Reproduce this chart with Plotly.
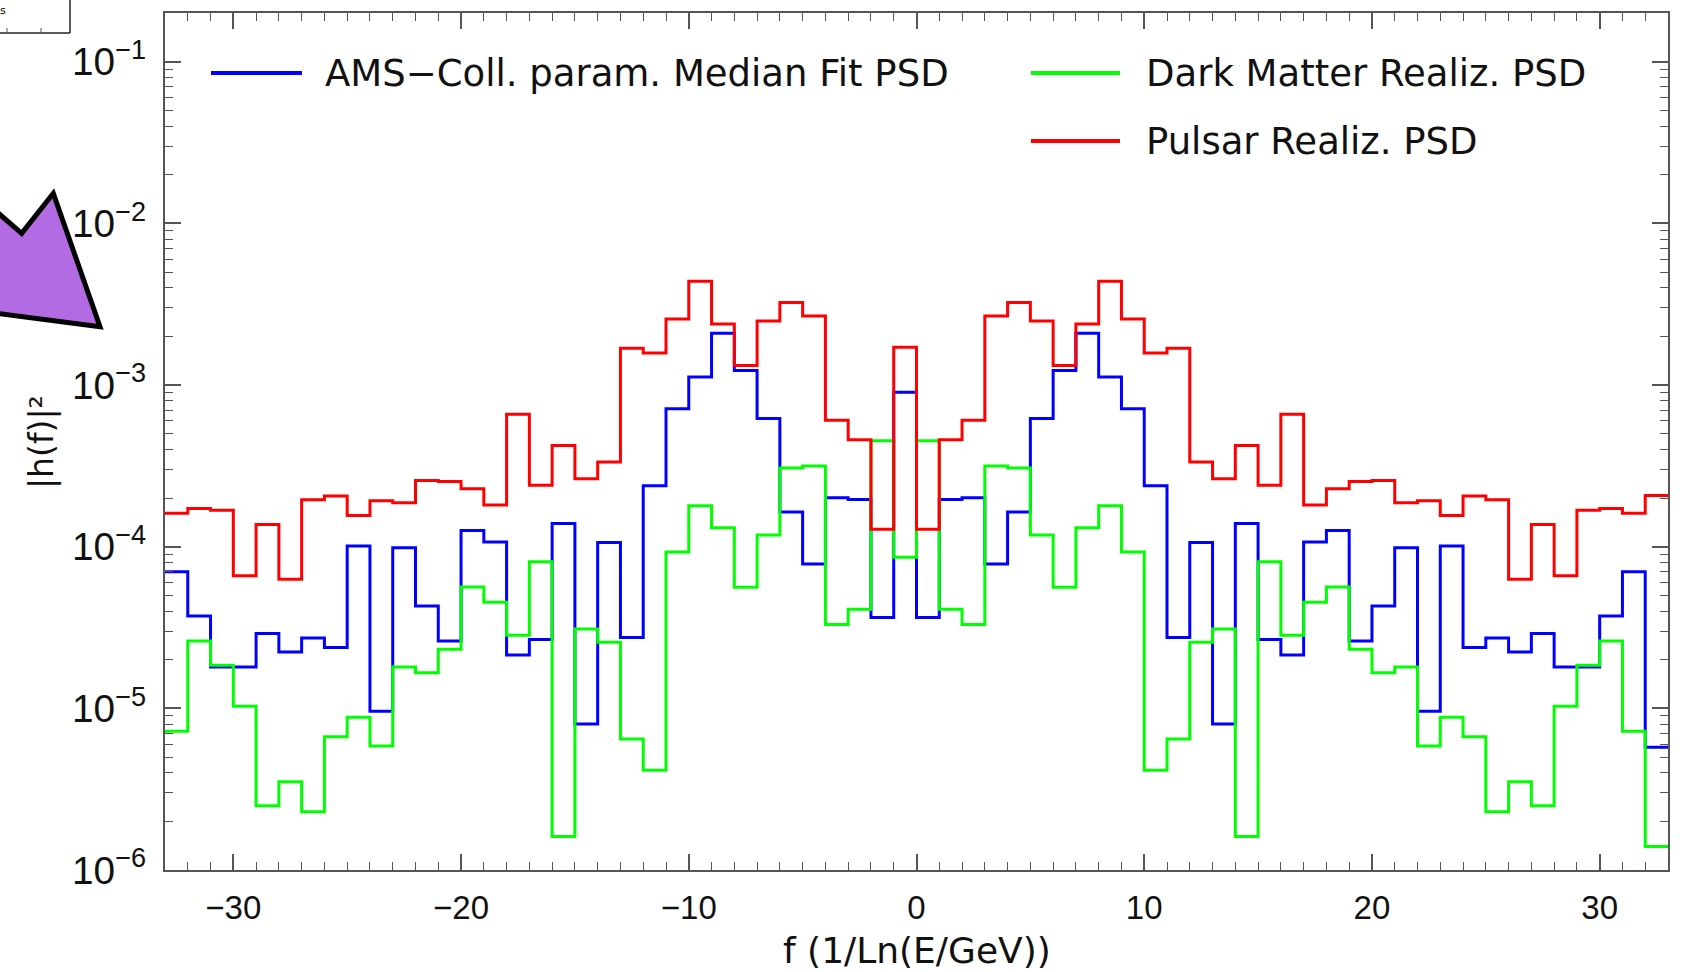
import plotly.graph_objects as go

# ---------------- data ----------------
# bin centres of the power spectrum (1/Ln(E/GeV)); each bin is 1 unit wide
freq = [-32.5, -31.5, -30.5, -29.5, -28.5, -27.5, -26.5, -25.5, -24.5, -23.5,
        -22.5, -21.5, -20.5, -19.5, -18.5, -17.5, -16.5, -15.5, -14.5, -13.5,
        -12.5, -11.5, -10.5, -9.5, -8.5, -7.5, -6.5, -5.5, -4.5, -3.5,
        -2.5, -1.5, -0.5, 0.5, 1.5, 2.5, 3.5, 4.5, 5.5, 6.5,
        7.5, 8.5, 9.5, 10.5, 11.5, 12.5, 13.5, 14.5, 15.5, 16.5,
        17.5, 18.5, 19.5, 20.5, 21.5, 22.5, 23.5, 24.5, 25.5, 26.5,
        27.5, 28.5, 29.5, 30.5, 31.5, 32.5]

ams_median_psd = [7.0e-5, 3.73e-5, 1.80e-5, 1.80e-5, 2.90e-5, 2.23e-5, 2.72e-5, 2.38e-5, 1.01e-4, 9.6e-6,
                  9.86e-5, 4.30e-5, 2.61e-5, 1.26e-4, 1.07e-4, 2.14e-5, 2.67e-5, 1.39e-4, 8.0e-6, 1.06e-4,
                  2.74e-5, 2.38e-4, 7.13e-4, 1.12e-3, 2.09e-3, 1.23e-3, 6.2e-4, 1.64e-4, 7.82e-5, 2.01e-4,
                  1.96e-4, 3.64e-5, 9.01e-4, 3.64e-5, 1.96e-4, 2.01e-4, 7.82e-5, 1.64e-4, 6.2e-4, 1.23e-3,
                  2.09e-3, 1.12e-3, 7.13e-4, 2.38e-4, 2.74e-5, 1.06e-4, 8.0e-6, 1.39e-4, 2.67e-5, 2.14e-5,
                  1.07e-4, 1.26e-4, 2.61e-5, 4.30e-5, 9.86e-5, 9.6e-6, 1.01e-4, 2.38e-5, 2.72e-5, 2.23e-5,
                  2.90e-5, 1.80e-5, 1.80e-5, 3.73e-5, 7.0e-5, 5.74e-6]

dark_matter_psd = [7.21e-6, 2.61e-5, 1.85e-5, 1.03e-5, 2.50e-6, 3.52e-6, 2.29e-6, 6.68e-6, 8.81e-6, 5.85e-6,
                   1.80e-5, 1.66e-5, 2.32e-5, 5.63e-5, 4.53e-5, 2.83e-5, 8.08e-5, 1.61e-6, 3.10e-5, 2.56e-5,
                   6.47e-6, 4.14e-6, 9.27e-5, 1.79e-4, 1.31e-4, 5.61e-5, 1.18e-4, 3.07e-4, 3.16e-4, 3.30e-5,
                   4.10e-5, 4.52e-4, 8.6e-5, 4.52e-4, 4.10e-5, 3.30e-5, 3.16e-4, 3.07e-4, 1.18e-4, 5.61e-5,
                   1.31e-4, 1.79e-4, 9.27e-5, 4.14e-6, 6.47e-6, 2.56e-5, 3.10e-5, 1.61e-6, 8.08e-5, 2.83e-5,
                   4.53e-5, 5.63e-5, 2.32e-5, 1.66e-5, 1.80e-5, 5.85e-6, 8.81e-6, 6.68e-6, 2.29e-6, 3.52e-6,
                   2.50e-6, 1.03e-5, 1.85e-5, 2.61e-5, 7.21e-6, 1.40e-6]

pulsar_psd = [1.61e-4, 1.72e-4, 1.68e-4, 6.62e-5, 1.37e-4, 6.28e-5, 1.95e-4, 2.06e-4, 1.56e-4, 1.92e-4,
              1.87e-4, 2.57e-4, 2.53e-4, 2.28e-4, 1.81e-4, 6.6e-4, 2.40e-4, 4.23e-4, 2.63e-4, 3.34e-4,
              1.69e-3, 1.58e-3, 2.56e-3, 4.38e-3, 2.38e-3, 1.32e-3, 2.49e-3, 3.24e-3, 2.67e-3, 6.05e-4,
              4.59e-4, 1.28e-4, 1.71e-3, 1.28e-4, 4.59e-4, 6.05e-4, 2.67e-3, 3.24e-3, 2.49e-3, 1.32e-3,
              2.38e-3, 4.38e-3, 2.56e-3, 1.58e-3, 1.69e-3, 3.34e-4, 2.63e-4, 4.23e-4, 2.40e-4, 6.6e-4,
              1.81e-4, 2.28e-4, 2.53e-4, 2.57e-4, 1.87e-4, 1.92e-4, 1.56e-4, 2.06e-4, 1.95e-4, 6.28e-5,
              1.37e-4, 6.62e-5, 1.68e-4, 1.72e-4, 1.61e-4, 2.07e-4]

series = [
    ("AMS\u2212Coll. param. Median Fit PSD", ams_median_psd, "#0000FF"),
    ("Dark Matter Realiz. PSD", dark_matter_psd, "#00FF00"),
    ("Pulsar Realiz. PSD", pulsar_psd, "#FF0000"),
]

x_title = "f (1/Ln(E/GeV))"
y_title = "|h(f)|\u00b2"

# ---------------- figure ----------------
W, H = 1689, 972
ML, MR, MT, MB = 165, 21, 13, 102
PW, PH = W - ML - MR, H - MT - MB


def px(xp):
    return (xp - ML) / PW


def py(yp):
    return (H - MB - yp) / PH


# histogram-style steps: edges from the bin centres (half a bin either side)
edges = [c - 0.5 for c in freq] + [freq[-1] + 0.5]

fig = go.Figure()
for name, vals, col in series:
    fig.add_trace(go.Scatter(
        x=edges, y=list(vals) + [vals[-1]], mode="lines", name=name,
        line=dict(color=col, width=3, shape="hv"), showlegend=False,
        hoverinfo="x+y"))

txt_family = "DejaVu Sans, sans-serif"
xtick_font = dict(family="Liberation Sans, Arial, sans-serif", size=33, color="#111")
ytick_font = dict(family="Liberation Sans, Arial, sans-serif", size=31, color="#111")
axis_col = "#555555"

fig.update_layout(
    width=W, height=H,
    margin=dict(l=ML, r=MR, t=MT, b=MB),
    paper_bgcolor="white", plot_bgcolor="white",
    font=dict(family=txt_family, color="#000"),
    xaxis=dict(
        range=[-33, 33], tick0=0, dtick=10, ticks="inside", ticklen=16,
        tickwidth=1.5, tickcolor=axis_col, showline=True, linecolor=axis_col,
        linewidth=1.5, mirror="ticks", showgrid=False, zeroline=False,
        tickfont=xtick_font, ticklabelstandoff=8,
        minor=dict(dtick=1, tick0=0, ticks="inside", ticklen=8, tickwidth=1.2,
                   tickcolor=axis_col, showgrid=False),
    ),
    yaxis=dict(
        type="log", range=[-6, -0.699], dtick=1, exponentformat="power",
        ticks="inside", ticklen=16, tickwidth=1.5, tickcolor=axis_col,
        showline=True, linecolor=axis_col, linewidth=1.5, mirror="ticks",
        showgrid=False, zeroline=False, tickfont=ytick_font, ticklabelstandoff=11,
        minor=dict(dtick="D1", ticks="inside", ticklen=8, tickwidth=1.2,
                   tickcolor=axis_col, showgrid=False),
    ),
)

# axis titles placed at the reference positions
fig.add_annotation(xref="x", yref="paper", x=0, y=py(950), text=x_title, showarrow=False,
                   xanchor="center", yanchor="middle",
                   font=dict(family=txt_family, size=36, color="#111"))
fig.add_annotation(xref="paper", yref="paper", x=px(41), y=py(442), text=y_title, showarrow=False,
                   textangle=-90, xanchor="center", yanchor="middle",
                   font=dict(family=txt_family, size=33, color="#111"))

# ---------------- hand-drawn legend (long line samples, two columns) ----------------
leg_font = dict(family=txt_family, size=37, color="#111")
legend_slots = [  # (x0_px, x1_px, y_px, text_x_px)
    (211, 302, 73, 323),
    (1031, 1120, 73, 1144),
    (1031, 1120, 141, 1144),
]
for (name, _, col), (x0, x1, yy, tx) in zip(series, legend_slots):
    fig.add_shape(type="line", xref="paper", yref="paper",
                  x0=px(x0), x1=px(x1), y0=py(yy), y1=py(yy),
                  line=dict(color=col, width=4))
    fig.add_annotation(xref="paper", yref="paper", x=px(tx), y=py(yy),
                       text=name, showarrow=False, xanchor="left", yanchor="middle",
                       font=leg_font)

# ---------------- slide decorations around the plot ----------------
arrow_pts = [(-10, 206), (21.7, 233.3), (53.3, 193.3), (100, 326.7), (-10, 312.5)]
path = "M " + " L ".join(f"{px(a):.5f},{py(b):.5f}" for a, b in arrow_pts) + " Z"
fig.add_shape(type="path", xref="paper", yref="paper", path=path,
              fillcolor="#B26BE2", line=dict(color="#000", width=5), layer="above")

# corner of a neighbouring inset frame (top-left)
fig.add_shape(type="line", xref="paper", yref="paper", x0=px(70), x1=px(70), y0=py(-5), y1=py(33),
              line=dict(color="#222", width=1.5))
fig.add_shape(type="line", xref="paper", yref="paper", x0=px(-5), x1=px(70), y0=py(33), y1=py(33),
              line=dict(color="#222", width=1.5))
for tx in (7, 41):
    fig.add_shape(type="line", xref="paper", yref="paper", x0=px(tx), x1=px(tx), y0=py(33), y1=py(28),
                  line=dict(color="#555", width=1))
fig.add_annotation(xref="paper", yref="paper", x=px(-2), y=py(10), text="s", showarrow=False,
                   xanchor="left", yanchor="middle", font=dict(size=11, color="#000"))

fig.write_html("out.html")
